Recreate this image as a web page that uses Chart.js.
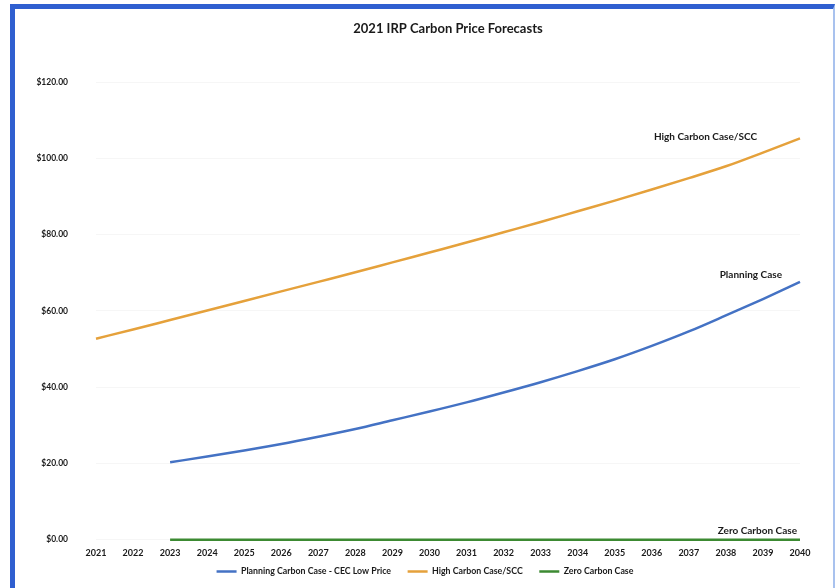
<!DOCTYPE html>
<html>
<head>
<meta charset="utf-8">
<script src="https://cdn.jsdelivr.net/npm/chart.js@4.4.1/dist/chart.umd.min.js"></script>
<style>
  html, body { margin: 0; padding: 0; background: #fff; overflow: hidden; }
  #frame {
    position: absolute; left: 10px; top: 4px;
    width: 818px; height: 600px;
    border-left: 5px solid #2f5fd0;
    border-top: 5px solid #2f5fd0;
    border-right: 2px solid #a9c2ee;
    background: #fff;
  }
  #wrap { position: relative; width: 818px; height: 584px; }
</style>
</head>
<body>
<div id="frame">
  <div id="wrap"><canvas id="carbonChart"></canvas></div>
</div>
<script>
const years = ['2021','2022','2023','2024','2025','2026','2027','2028','2029','2030',
               '2031','2032','2033','2034','2035','2036','2037','2038','2039','2040'];

// $/ton
const planningCase = [null, null, 20.3, 21.8, 23.4, 25.1, 27.0, 29.0, 31.3, 33.6,
                      36.0, 38.6, 41.3, 44.2, 47.3, 50.8, 54.6, 58.8, 63.1, 67.6];
const highCarbonCase = [52.7, 55.1, 57.6, 60.1, 62.6, 65.1, 67.6, 70.1, 72.7, 75.3,
                        77.9, 80.6, 83.3, 86.1, 88.9, 91.8, 94.8, 97.9, 101.5, 105.2];
const zeroCarbonCase = [null, null, 0, 0, 0, 0, 0, 0, 0, 0,
                        0, 0, 0, 0, 0, 0, 0, 0, 0, 0];

const yTicks = [0, 20, 40, 60, 80, 100, 120];

const FONT = 'Lato, "Open Sans", sans-serif';
Chart.defaults.font.family = FONT;
Chart.defaults.font.weight = 'bold';
Chart.defaults.color = '#1a1a1a';

// title and the end-of-line labels, placed from the scales
const textLabels = {
  id: 'textLabels',
  afterDatasetsDraw(chart) {
    const {ctx, chartArea, scales: {x, y}} = chart;
    const last = years.length - 1;
    ctx.save();
    ctx.fillStyle = '#1a1a1a';
    ctx.textBaseline = 'middle';
    ctx.textAlign = 'center';
    ctx.font = 'bold 13px ' + FONT;
    ctx.fillText('2021 IRP Carbon Price Forecasts', (chartArea.left + chartArea.right) / 2, 20);

    ctx.font = 'bold 10px ' + FONT;
    ctx.textAlign = 'right';
    ctx.fillText('High Carbon Case/SCC', x.getPixelForValue(last) - 43, y.getPixelForValue(highCarbonCase[last]) - 2);
    ctx.fillText('Planning Case', x.getPixelForValue(last) - 18, y.getPixelForValue(planningCase[last]) - 7);
    ctx.fillText('Zero Carbon Case', x.getPixelForValue(last) - 3, y.getPixelForValue(0) - 9);
    ctx.restore();
  }
};

const ctx = document.getElementById('carbonChart').getContext('2d');
const chart = new Chart(ctx, {
  type: 'line',
  data: {
    labels: years,
    datasets: [
      {
        label: 'Planning Carbon Case - CEC Low Price',
        data: planningCase,
        borderColor: '#4472c4',
        backgroundColor: '#4472c4',
        borderWidth: 2.5
      },
      {
        label: 'High Carbon Case/SCC',
        data: highCarbonCase,
        borderColor: '#e5a13b',
        backgroundColor: '#e5a13b',
        borderWidth: 2.5
      },
      {
        label: 'Zero Carbon Case',
        data: zeroCarbonCase,
        borderColor: '#3c8a32',
        backgroundColor: '#3c8a32',
        borderWidth: 2.5,
        clip: 4
      }
    ]
  },
  options: {
    responsive: true,
    maintainAspectRatio: false,
    animation: false,
    layout: { padding: { top: 73, right: 0, bottom: 7, left: 2 } },
    elements: {
      point: { radius: 0 },
      line: { cubicInterpolationMode: 'monotone' }
    },
    plugins: {
      title: { display: false },
      tooltip: { enabled: false },
      legend: {
        position: 'bottom',
        labels: {
          usePointStyle: true,
          pointStyle: 'line',
          pointStyleWidth: 20,
          padding: 10,
          font: { size: 8.8, weight: 'bold' },
          generateLabels(chart) {
            const items = Chart.defaults.plugins.legend.labels.generateLabels(chart);
            items.forEach((item, i) => {
              if (i < items.length - 1) item.text += '\u2003';
            });
            return items;
          }
        }
      }
    },
    scales: {
      x: {
        offset: false,
        afterFit(scale) { scale.height = 17.5; },
        grid: { display: false, drawTicks: false },
        border: { display: false },
        ticks: { padding: 8, autoSkip: false, maxRotation: 0, font: { size: 9 } }
      },
      y: {
        min: 0,
        max: 120,
        afterFit(scale) { scale.width = 79; },
        afterBuildTicks(scale) { scale.ticks = yTicks.map(v => ({ value: v })); },
        grid: { color: 'rgba(0,0,0,0.035)', drawTicks: false },
        border: { display: false },
        ticks: {
          padding: 28,
          font: { size: 8.5 },
          callback: v => '$' + v.toFixed(2)
        }
      },
      // empty right-hand axis, only keeps room at the right of the plot
      yRight: {
        position: 'right',
        afterFit(scale) { scale.width = 33; },
        grid: { display: false, drawTicks: false },
        border: { display: false },
        ticks: { display: false }
      }
    }
  },
  plugins: [textLabels]
});
</script>
</body>
</html>
